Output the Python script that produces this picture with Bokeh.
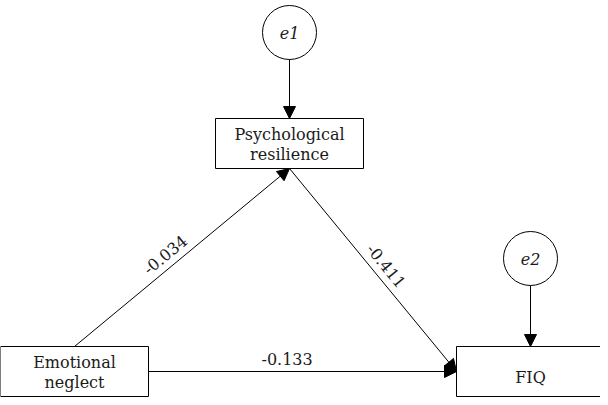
import math
from bokeh.plotting import figure
from bokeh.models import Range1d, ColumnDataSource, Arrow, NormalHead
from bokeh.core.properties import value
from bokeh.embed import file_html
from bokeh.resources import INLINE

# ---- data ----
node_labels = ["Emotional\nneglect", "Psychological\nresilience", "FIQ"]
error_labels = ["e1", "e2"]
error_targets = [1, 2]
path_from = [0, 1, 0]
path_to = [1, 2, 2]
path_coef = [-0.034, -0.411, -0.133]

# ---- layout (positions in canvas units) ----
W, H = 600, 397
node_x = [74, 289, 530]
node_y = [26, 254, 26]
box_w, box_h = 148, 50
err_x = [289, 530]
err_y = [365, 139]
err_r = 27
FONT = "DejaVu Serif"
FS = "16px"

p = figure(width=W, height=H, output_backend="svg", toolbar_location=None,
           x_range=Range1d(0, W), y_range=Range1d(0, H), min_border=0)
p.axis.visible = False
p.grid.visible = False
p.outline_line_color = None
p.background_fill_color = "white"
p.border_fill_color = "white"

# boxes
p.rect(x=node_x, y=node_y, width=box_w, height=box_h, fill_color="white",
       line_color="black", line_width=1)
# error circles
p.circle(x=err_x, y=err_y, radius=err_r, fill_color="white", line_color="black", line_width=1)

# node labels
tx, ty, tt = [], [], []
for lab, x, y in zip(node_labels, node_x, node_y):
    lines = lab.split("\n")
    n = len(lines)
    for i, ln in enumerate(lines):
        tx.append(x)
        ty.append(y + 9 - i * 20 if n > 1 else y - 6)
        tt.append(ln)
p.text(x=tx, y=ty, text=tt, text_font=value(FONT), text_font_size=FS,
       text_align="center", text_baseline="middle", text_color="#1a1a1a")
p.text(x=err_x, y=err_y, text=error_labels, text_font=value(FONT), text_font_size=FS,
       text_font_style="italic", text_align="center", text_baseline="middle", text_color="#1a1a1a")

def head():
    return NormalHead(size=12, fill_color="black", line_color="black", line_width=1)

# error arrows
ex0 = err_x
ey0 = [y - err_r for y in err_y]
ex1 = [node_x[t] for t in error_targets]
ey1 = [node_y[t] + box_h / 2 for t in error_targets]
p.add_layout(Arrow(end=head(),
                   source=ColumnDataSource(dict(x0=ex0, y0=ey0, x1=ex1, y1=ey1)),
                   x_start="x0", y_start="y0", x_end="x1", y_end="y1",
                   line_color="black", line_width=1))

# path arrows
def anchor(i, j):
    xi, yi, xj, yj = node_x[i], node_y[i], node_x[j], node_y[j]
    if abs(yi - yj) < 1:
        return (xi + box_w / 2, yi), (xj - box_w / 2, yj)
    if yj > yi:
        s = (xi, yi + box_h / 2)
    else:
        s = (xi, yi - box_h / 2)
    if xj - xi > 0 and yj < yi:
        e = (xj - box_w / 2, yj)
    else:
        e = (xj, yj - box_h / 2)
    return s, e

px0, py0, px1, py1 = [], [], [], []
lx, ly, la, lt = [], [], [], []
label_t = [0.46, 0.52, 0.45]
for k, (i, j, c) in enumerate(zip(path_from, path_to, path_coef)):
    (x0, y0), (x1, y1) = anchor(i, j)
    px0.append(x0); py0.append(y0); px1.append(x1); py1.append(y1)
    ang = math.atan2(y1 - y0, x1 - x0)
    t = label_t[k]
    mx, my = x0 + t * (x1 - x0), y0 + t * (y1 - y0)
    nx, ny = -math.sin(ang), math.cos(ang)
    if ny < 0:
        nx, ny = -nx, -ny
    off = 13
    lx.append(mx + nx * off); ly.append(my + ny * off); la.append(ang)
    lt.append(f"{c:.3f}")

p.add_layout(Arrow(end=head(),
                   source=ColumnDataSource(dict(x0=px0, y0=py0, x1=px1, y1=py1)),
                   x_start="x0", y_start="y0", x_end="x1", y_end="y1",
                   line_color="black", line_width=1))
p.text(x=lx, y=ly, text=lt, angle=la, text_font=value(FONT), text_font_size=FS,
       text_align="center", text_baseline="middle", text_color="#1a1a1a")

open("out.html", "w").write(file_html(p, INLINE))
